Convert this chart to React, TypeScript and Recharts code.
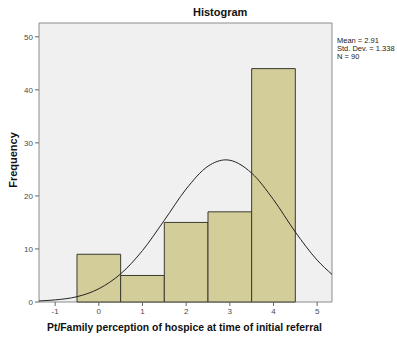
import {
  ComposedChart, Line, XAxis, YAxis, ReferenceArea,
} from 'recharts';

// histogram bins (centre value) and their counts
const binCenters = [0, 1, 2, 3, 4];
const binCounts = [9, 5, 15, 17, 44];

// fitted normal curve
const curveX = [-1.37, -1, -0.5, 0, 0.5, 1, 1.5, 2, 2.5, 2.91, 3.5, 4, 4.5, 5, 5.34];
const curveY = [0.2, 0.4, 1.0, 2.5, 5.3, 9.7, 15.4, 21.3, 25.6, 26.8, 24.3, 19.3, 13.2, 7.9, 5.2];

const xTicks = [-1, 0, 1, 2, 3, 4, 5];
const yTicks = [0, 10, 20, 30, 40, 50];
const statLines = ['Mean = 2.91', 'Std. Dev. = 1.338', 'N = 90'];

const X_MIN = -1.37;
const X_MAX = 5.34;
const Y_MAX = 52.6;

const curveData = curveX.map((x, i) => ({ x, y: curveY[i] }));

const FONT = '"Liberation Sans", Arial, sans-serif';
const tickStyle = { fontSize: 8, fill: '#4a4a4a', fontFamily: FONT };

export default function App() {
  return (
    <div style={{ position: 'absolute', left: 0, top: 0, width: 397, height: 337, background: '#fff', fontFamily: FONT }}>
      <ComposedChart
        width={397}
        height={337}
        data={curveData}
        margin={{ top: 23, right: 65, bottom: 0, left: 0 }}
      >
        <XAxis
          dataKey="x"
          type="number"
          domain={[X_MIN, X_MAX]}
          ticks={xTicks}
          allowDataOverflow
          height={35}
          tick={tickStyle}
          tickSize={4}
          axisLine={false}
          tickLine={{ stroke: '#666' }}
        />
        <YAxis
          type="number"
          domain={[0, Y_MAX]}
          ticks={yTicks}
          allowDataOverflow
          width={39}
          tick={tickStyle}
          tickSize={4}
          axisLine={false}
          tickLine={{ stroke: '#666' }}
        />
        <ReferenceArea
          x1={X_MIN}
          x2={X_MAX}
          y1={0}
          y2={Y_MAX}
          fill="#f0f0f0"
          fillOpacity={1}
          stroke="#8c8c8c"
          strokeWidth={1}
        />
        {binCenters.map((c, i) => (
          <ReferenceArea
            key={c}
            x1={c - 0.5}
            x2={c + 0.5}
            y1={0}
            y2={binCounts[i]}
            fill="#d3cd9a"
            fillOpacity={1}
            stroke="#3a3a30"
            strokeWidth={1}
          />
        ))}
        <Line
          dataKey="y"
          type="monotone"
          stroke="#222"
          strokeWidth={1}
          dot={false}
          isAnimationActive={false}
        />
      </ComposedChart>

      <div style={{ position: 'absolute', left: 193, top: 6, fontSize: 11, fontWeight: 'bold', color: '#111', whiteSpace: 'nowrap' }}>
        Histogram
      </div>
      <div style={{ position: 'absolute', left: 13, top: 160, transform: 'translate(-50%, -50%) rotate(-90deg)', fontSize: 11, fontWeight: 'bold', color: '#111', whiteSpace: 'nowrap' }}>
        Frequency
      </div>
      <div style={{ position: 'absolute', left: 47, top: 322, fontSize: 10.4, fontWeight: 'bold', color: '#111', whiteSpace: 'nowrap' }}>
        Pt/Family perception of hospice at time of initial referral
      </div>
      <div style={{ position: 'absolute', left: 337, top: 37, fontSize: 7.5, lineHeight: '8px', color: '#222' }}>
        {statLines.map((s) => (
          <div key={s}>{s}</div>
        ))}
      </div>
    </div>
  );
}
